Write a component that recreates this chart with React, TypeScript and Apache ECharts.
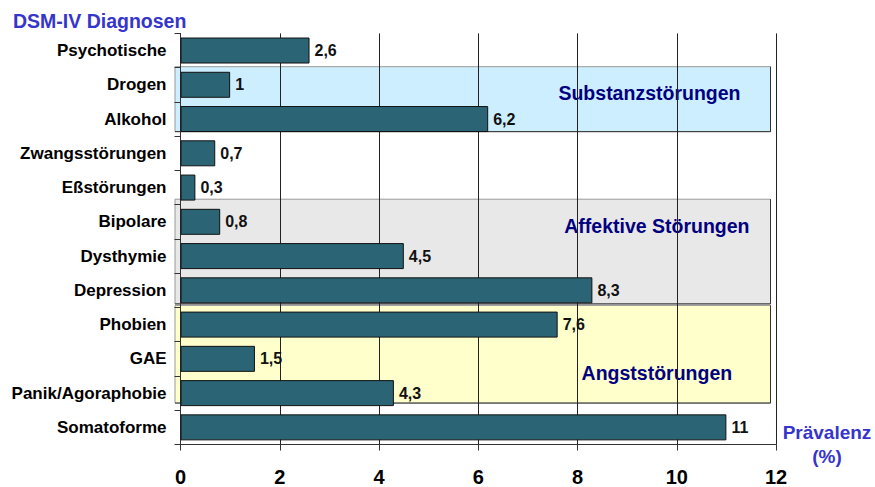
import React, { useEffect, useRef } from "react";
import * as echarts from "echarts";

const categories = [
  "Psychotische",
  "Drogen",
  "Alkohol",
  "Zwangsstörungen",
  "Eßstörungen",
  "Bipolare",
  "Dysthymie",
  "Depression",
  "Phobien",
  "GAE",
  "Panik/Agoraphobie",
  "Somatoforme",
];
const prevalence = [2.6, 1, 6.2, 0.7, 0.3, 0.8, 4.5, 8.3, 7.6, 1.5, 4.3, 11];
const xMin = 0;
const xMax = 12;
const xStep = 2;

const groupNames = ["Substanzstörungen", "Affektive Störungen", "Angststörungen"];
const groupFrom = ["Drogen", "Bipolare", "Phobien"];
const groupTo = ["Alkohol", "Depression", "Panik/Agoraphobie"];

const titleText = "DSM-IV Diagnosen";
const xAxisTitle = "Prävalenz\n(%)";

// styling (positions in band units / pixels, not data)
const groupStyles = [
  { fill: "#cdeefe", topOff: -0.528, botOff: 0.368, labelX: 9.45, labelBand: 1.24 },
  { fill: "#e8e8e8", topOff: -0.66, botOff: 0.396, labelX: 9.6, labelBand: 5.12 },
  { fill: "#ffffcc", topOff: -0.56, botOff: 0.29, labelX: 9.6, labelBand: 9.4 },
];

const FONT = "Arial, 'Liberation Sans', Helvetica, sans-serif";

export default function App() {
  const ref = useRef<HTMLDivElement | null>(null);

  useEffect(() => {
    document.body.style.margin = "0";
    if (!ref.current) return;
    const chart = echarts.init(ref.current, null, { renderer: "svg" });
    chart.setOption({
      animation: false,
      backgroundColor: "#ffffff",
      grid: { left: 180.5, right: 99, top: 33.4, bottom: 42.5, containLabel: false },
      xAxis: {
        type: "value",
        min: xMin,
        max: xMax,
        interval: xStep,
        axisLine: { show: true, lineStyle: { color: "#333", width: 1 } },
        axisTick: { show: true, length: 6, lineStyle: { color: "#333" } },
        splitLine: { show: true, lineStyle: { color: "#222", width: 1 } },
        axisLabel: {
          color: "#000",
          fontFamily: FONT,
          fontWeight: "bold",
          fontSize: 20,
          margin: 22,
        },
      },
      yAxis: {
        type: "category",
        inverse: true,
        data: categories,
        axisLine: { show: true, lineStyle: { color: "#333", width: 1 } },
        axisTick: { show: true, length: 6, lineStyle: { color: "#333" } },
        splitLine: { show: false },
        axisLabel: {
          color: "#000",
          fontFamily: FONT,
          fontWeight: "bold",
          fontSize: 17,
          margin: 14,
        },
      },
      series: [
        {
          type: "bar",
          data: prevalence,
          barWidth: 26,
          z: 5,
          itemStyle: { color: "#2b6575", borderColor: "#111", borderWidth: 1 },
          label: {
            show: true,
            position: "right",
            distance: 5,
            color: "#111",
            fontFamily: FONT,
            fontWeight: "bold",
            fontSize: 16,
            formatter: (p: any) => String(p.value).replace(".", ","),
          },
        },
      ],
    });

    const pt = (v: number, idx: number) =>
      chart.convertToPixel({ gridIndex: 0 }, [v, idx]) as number[];
    const c0 = pt(0, 0);
    const c1 = pt(0, 1);
    const band = c1[1] - c0[1];
    const x0 = c0[0];
    const xEnd = pt(xMax, 0)[0];

    const elements: any[] = [];
    groupNames.forEach((name, g) => {
      const st = groupStyles[g];
      const iFrom = categories.indexOf(groupFrom[g]);
      const iTo = categories.indexOf(groupTo[g]);
      const top = pt(0, iFrom)[1] + st.topOff * band;
      const bot = pt(0, iTo)[1] + st.botOff * band;
      const left = x0 - 5.5;
      const right = xEnd - 5.5;
      elements.push({
        type: "rect",
        z: -3,
        silent: true,
        shape: { x: left, y: top, width: right - left, height: bot - top },
        style: { fill: st.fill, stroke: "#999", lineWidth: 1 },
      });
      elements.push({
        type: "polyline",
        z: -2,
        silent: true,
        shape: { points: [[right, top], [right, bot], [left, bot]] },
        style: { stroke: "#333", lineWidth: 1, fill: null },
      });
      elements.push({
        type: "text",
        z: -1,
        silent: true,
        x: pt(st.labelX, 0)[0],
        y: c0[1] + st.labelBand * band,
        style: {
          text: name,
          fill: "#000080",
          fontFamily: FONT,
          fontWeight: "bold",
          fontSize: 19.5,
          textAlign: "center",
          textVerticalAlign: "middle",
        },
      });
    });

    elements.push({
      type: "text",
      x: 13,
      y: 20.5,
      style: {
        text: titleText,
        fill: "#3535cc",
        fontFamily: FONT,
        fontWeight: "bold",
        fontSize: 19.5,
        textAlign: "left",
        textVerticalAlign: "middle",
      },
    });
    elements.push({
      type: "text",
      x: 827,
      y: 444,
      style: {
        text: xAxisTitle,
        fill: "#3535cc",
        fontFamily: FONT,
        fontWeight: "bold",
        fontSize: 19,
        lineHeight: 24,
        textAlign: "center",
        textVerticalAlign: "middle",
      },
    });

    chart.setOption({ graphic: { elements } });

    return () => {
      chart.dispose();
    };
  }, []);

  return <div ref={ref} style={{ width: 875, height: 487 }} />;
}
